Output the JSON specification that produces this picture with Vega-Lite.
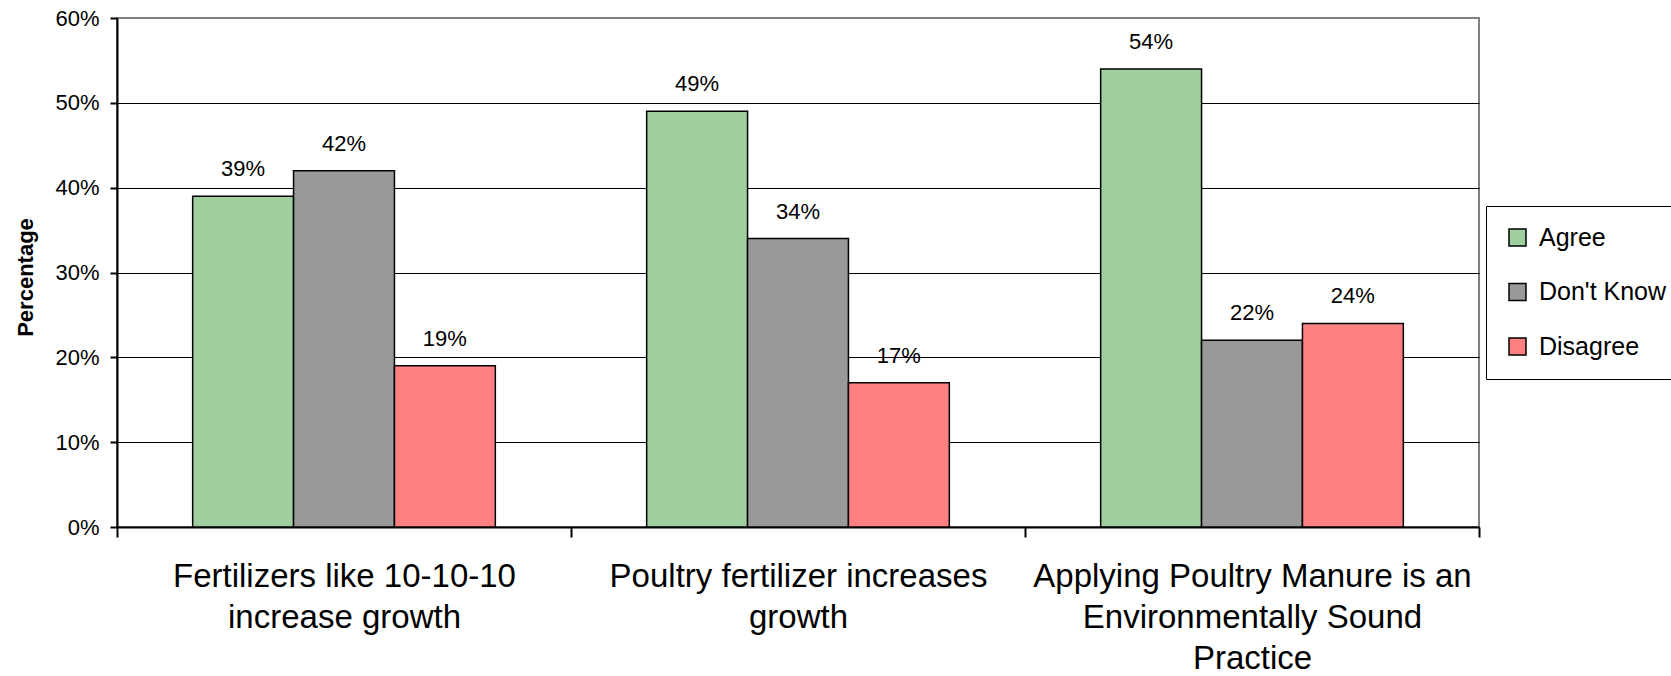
{
  "$schema": "https://vega.github.io/schema/vega-lite/v6.json",
  "width": 1362,
  "height": 509,
  "autosize": {"type": "none"},
  "padding": {"left": 117, "top": 18, "right": 192, "bottom": 149},
  "background": "white",
  "config": {
    "font": "Liberation Sans",
    "view": {"stroke": "#808080", "strokeWidth": 2},
    "axis": {"labelColor": "black", "titleColor": "black", "domainColor": "black", "tickColor": "black"}
  },
  "data": {
    "values": [
      {"statement": "Fertilizers like 10-10-10 increase growth", "response": "Agree", "pct": 0.39},
      {"statement": "Fertilizers like 10-10-10 increase growth", "response": "Don't Know", "pct": 0.42},
      {"statement": "Fertilizers like 10-10-10 increase growth", "response": "Disagree", "pct": 0.19},
      {"statement": "Poultry fertilizer increases growth", "response": "Agree", "pct": 0.49},
      {"statement": "Poultry fertilizer increases growth", "response": "Don't Know", "pct": 0.34},
      {"statement": "Poultry fertilizer increases growth", "response": "Disagree", "pct": 0.17},
      {"statement": "Applying Poultry Manure is an Environmentally Sound Practice", "response": "Agree", "pct": 0.54},
      {"statement": "Applying Poultry Manure is an Environmentally Sound Practice", "response": "Don't Know", "pct": 0.22},
      {"statement": "Applying Poultry Manure is an Environmentally Sound Practice", "response": "Disagree", "pct": 0.24}
    ]
  },
  "encoding": {
    "x": {
      "field": "statement",
      "type": "nominal",
      "sort": ["Fertilizers like 10-10-10 increase growth", "Poultry fertilizer increases growth", "Applying Poultry Manure is an Environmentally Sound Practice"],
      "scale": {"paddingInner": 0, "paddingOuter": 0},
      "axis": {
        "title": null,
        "labelAngle": 0,
        "labelFontSize": 33,
        "labelLineHeight": 41,
        "labelBaseline": "top",
        "labelPadding": 23,
        "labelLimit": 0,
        "tickBand": "extent",
        "tickSize": 10,
        "tickWidth": 2,
        "domainWidth": 2,
        "grid": false,
        "labelExpr": "datum.label == 'Fertilizers like 10-10-10 increase growth' ? ['Fertilizers like 10-10-10', 'increase growth'] : datum.label == 'Poultry fertilizer increases growth' ? ['Poultry fertilizer increases', 'growth'] : datum.label == 'Applying Poultry Manure is an Environmentally Sound Practice' ? ['Applying Poultry Manure is an', 'Environmentally Sound', 'Practice'] : ''"
      }
    },
    "xOffset": {
      "field": "response",
      "type": "nominal",
      "sort": ["Agree", "Don't Know", "Disagree"],
      "scale": {"paddingInner": 0, "paddingOuter": 0.75}
    },
    "y": {
      "field": "pct",
      "type": "quantitative",
      "scale": {"domain": [0, 0.6], "nice": false},
      "axis": {
        "title": "Percentage",
        "titleFontSize": 22,
        "titleFontWeight": "bold",
        "titleX": -92,
        "titleY": 259,
        "titleAngle": -90,
        "titleAlign": "center",
        "titleBaseline": "middle",
        "values": [0, 0.1, 0.2, 0.3, 0.4, 0.5, 0.6],
        "format": ".0%",
        "labelFontSize": 22,
        "labelPadding": 11,
        "tickSize": 7,
        "tickWidth": 2,
        "domainWidth": 2,
        "grid": true,
        "gridColor": {"condition": {"test": "datum.value >= 0.6", "value": "#808080"}, "value": "black"},
        "gridWidth": 1
      }
    }
  },
  "layer": [
    {
      "mark": {"type": "bar", "stroke": "black", "strokeWidth": 1.5},
      "encoding": {
        "color": {
          "field": "response",
          "type": "nominal",
          "sort": ["Agree", "Don't Know", "Disagree"],
          "scale": {"domain": ["Agree", "Don't Know", "Disagree"], "range": ["#A0CF9F", "#999999", "#FF8080"]},
          "legend": {
            "title": null,
            "orient": "none",
            "legendX": 1369,
            "legendY": 188,
            "padding": 19,
            "strokeColor": "black",
            "fillColor": "white",
            "symbolType": "square",
            "symbolSize": 289,
            "symbolStrokeColor": "black",
            "symbolStrokeWidth": 1.5,
            "labelFontSize": 25,
            "labelColor": "black",
            "labelOffset": 9,
            "rowPadding": 28.5,
            "labelExpr": "datum.label + '        '"
          }
        }
      }
    },
    {
      "mark": {"type": "text", "baseline": "alphabetic", "dy": -20, "fontSize": 22, "color": "black"},
      "encoding": {
        "text": {"field": "pct", "type": "quantitative", "format": ".0%"}
      }
    }
  ]
}
